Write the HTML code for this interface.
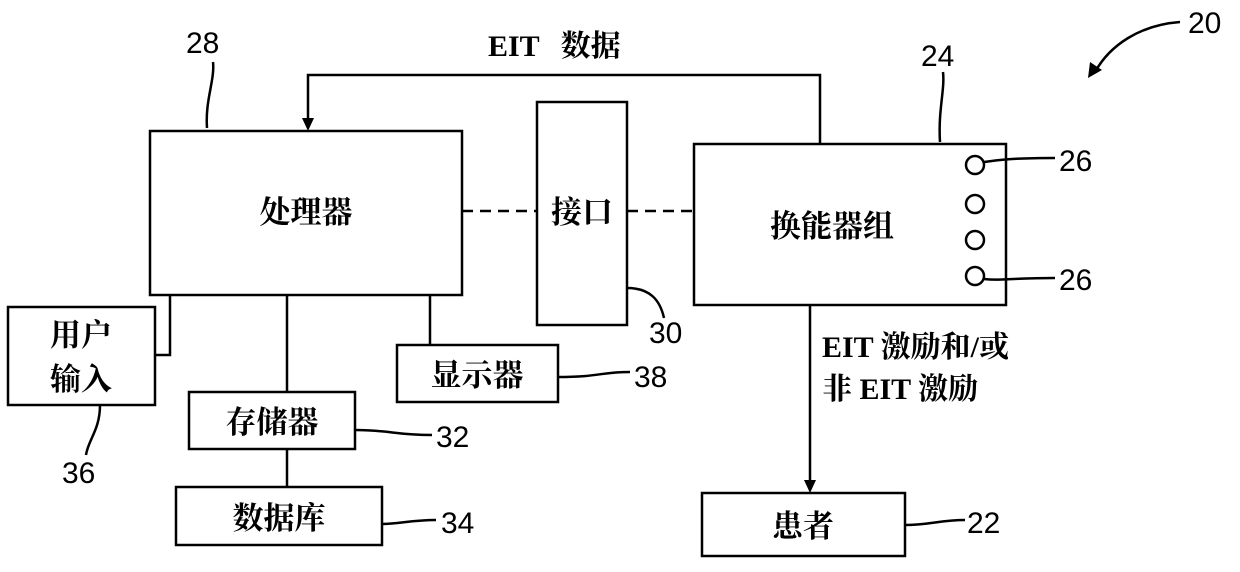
<!DOCTYPE html>
<html><head><meta charset="utf-8"><style>
body{margin:0;background:#fff;}
svg text{font-family:"Liberation Sans",sans-serif;}
.cn{font-family:"Liberation Serif","Noto Serif CJK SC","Noto Sans CJK SC",serif;font-size:31px;font-weight:bold;}
.num{font-size:30px;}
.eit{font-family:"Liberation Serif","Noto Serif CJK SC","Noto Sans CJK SC",serif;font-weight:bold;font-size:30px;}
</style></head><body>
<svg width="1240" height="567" viewBox="0 0 1240 567" xmlns="http://www.w3.org/2000/svg">
<g fill="none" stroke="#000" stroke-width="2.5">
<rect x="150" y="131" width="312" height="164"/>
<rect x="537" y="102" width="90" height="223"/>
<rect x="694" y="144" width="312" height="161"/>
<circle cx="975" cy="165" r="9"/><circle cx="975" cy="204" r="9"/><circle cx="975" cy="240" r="9"/><circle cx="975" cy="276" r="9"/>
<rect x="8" y="307" width="147" height="98"/>
<rect x="397" y="345" width="161" height="57"/>
<rect x="189" y="392" width="166" height="57"/>
<rect x="176" y="487" width="206" height="58"/>
<rect x="702" y="493" width="203" height="63"/>
<polyline points="170,295 170,355 155,355"/>
<line x1="287" y1="295" x2="287" y2="392"/>
<line x1="430" y1="295" x2="430" y2="345"/>
<line x1="287" y1="449" x2="287" y2="487"/>
<polyline points="820,144 820,75 308,75 308,122"/>
<line x1="810" y1="305" x2="810" y2="482"/>
<line x1="462" y1="211" x2="537" y2="211" stroke-dasharray="11,7"/>
<line x1="627" y1="211" x2="694" y2="211" stroke-dasharray="11,7"/>
<path d="M207,128 C205,100 215,80 213,62"/>
<path d="M940,142 C938,110 945,90 943,72"/>
<path d="M984,162 C1000,160 1010,158 1055,158"/>
<path d="M984,279 C1000,281 1010,278 1055,278"/>
<path d="M627,288 C650,288 660,300 664,318"/>
<path d="M100,405 C100,430 88,440 86,455"/>
<path d="M558,377 C600,377 600,372 630,372"/>
<path d="M355,430 C390,430 395,435 432,435"/>
<path d="M382,524 C400,524 410,520 436,520"/>
<path d="M905,525 C930,525 940,520 965,520"/>
<path d="M1180,22 C1140,25 1110,45 1095,72"/>
</g>
<polygon points="302,118 314,118 308,131" fill="#000"/>
<polygon points="804,480 816,480 810,493" fill="#000"/>
<polygon points="1088,78 1090,62 1102,70" fill="#000"/>
<text class="cn" x="306" y="223" text-anchor="middle">处理器</text>
<text class="cn" x="582" y="223" text-anchor="middle">接口</text>
<text class="cn" x="832" y="237" text-anchor="middle">换能器组</text>
<text class="cn" x="81" y="346" text-anchor="middle">用户</text>
<text class="cn" x="81" y="390" text-anchor="middle">输入</text>
<text class="cn" x="477" y="386" text-anchor="middle">显示器</text>
<text class="cn" x="272" y="433" text-anchor="middle">存储器</text>
<text class="cn" x="279" y="529" text-anchor="middle">数据库</text>
<text class="cn" x="803" y="537" text-anchor="middle">患者</text>
<text class="eit" x="488" y="56">EIT <tspan dx="14">数据</tspan></text>
<text class="eit" x="822" y="357">EIT 激励和/或</text>
<text class="eit" x="822" y="399">非 EIT 激励</text>
<g class="num">
<text x="186" y="53">28</text>
<text x="921" y="66">24</text>
<text x="1188" y="33">20</text>
<text x="1059" y="171">26</text>
<text x="1059" y="290">26</text>
<text x="649" y="343">30</text>
<text x="62" y="483">36</text>
<text x="634" y="387">38</text>
<text x="436" y="447">32</text>
<text x="441" y="533">34</text>
<text x="967" y="533">22</text>
</g>
</svg>
</body></html>
